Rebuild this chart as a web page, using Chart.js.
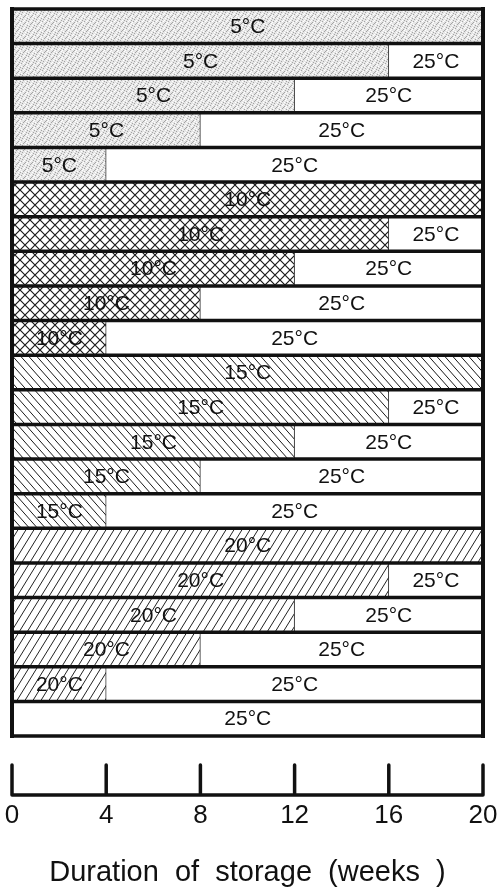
<!DOCTYPE html>
<html>
<head>
<meta charset="utf-8">
<script src="https://cdn.jsdelivr.net/npm/chart.js@4/dist/chart.umd.min.js"></script>
<style>
html, body { margin: 0; padding: 0; background: #fff; }
canvas { display: block; }
</style>
</head>
<body>
<canvas id="graphic" width="499" height="890"></canvas>
<script>
// storage regimes, top to bottom: weeks at the cold temperature, then the rest at 25°C
var rows = ['5-20', '5-16', '5-12', '5-8', '5-4',
            '10-20', '10-16', '10-12', '10-8', '10-4',
            '15-20', '15-16', '15-12', '15-8', '15-4',
            '20-20', '20-16', '20-12', '20-8', '20-4',
            '25-0'];

var weeks5  = [20, 16, 12, 8, 4, null, null, null, null, null, null, null, null, null, null, null, null, null, null, null, null];
var weeks10 = [null, null, null, null, null, 20, 16, 12, 8, 4, null, null, null, null, null, null, null, null, null, null, null];
var weeks15 = [null, null, null, null, null, null, null, null, null, null, 20, 16, 12, 8, 4, null, null, null, null, null, null];
var weeks20 = [null, null, null, null, null, null, null, null, null, null, null, null, null, null, null, 20, 16, 12, 8, 4, null];
var weeks25 = [null, 4, 8, 12, 16, null, 4, 8, 12, 16, null, 4, 8, 12, 16, null, 4, 8, 12, 16, 20];

var weekTicks = [0, 4, 8, 12, 16, 20];

var FONT = '"Liberation Sans", Arial, Helvetica, sans-serif';
var INK = '#111';

function makeTile(w, h, paint) {
    var c = document.createElement('canvas');
    c.width = w;
    c.height = h;
    var g = c.getContext('2d');
    g.fillStyle = '#fff';
    g.fillRect(0, 0, w, h);
    paint(g, w, h);
    return g.createPattern(c, 'repeat');
}

// fine grey stipple
var stipple = makeTile(7, 7, function (g) {
    g.fillStyle = '#e6e6e6';
    g.fillRect(0, 0, 7, 7);
    g.fillStyle = '#a4a4a4';
    [[0, 0], [4, 1], [2, 3], [6, 4], [1, 5], [5, 6], [3, 2]].forEach(function (p) {
        g.fillRect(p[0], p[1], 1, 1);
    });
    g.fillStyle = '#fff';
    [[2, 0], [6, 1], [0, 3], [4, 4], [3, 6], [5, 2]].forEach(function (p) {
        g.fillRect(p[0], p[1], 1, 1);
    });
});

// cross hatch
var crossHatch = makeTile(10, 10, function (g, w, h) {
    g.strokeStyle = '#1a1a1a';
    g.lineWidth = 1.2;
    for (var dx = -w; dx <= w; dx += w) {
        g.beginPath();
        g.moveTo(dx, 0); g.lineTo(dx + w, h);
        g.moveTo(dx, h); g.lineTo(dx + w, 0);
        g.stroke();
    }
});

// back-slash lines
var backHatch = makeTile(8, 9, function (g, w, h) {
    g.strokeStyle = '#1a1a1a';
    g.lineWidth = 1;
    for (var dx = -w; dx <= w; dx += w) {
        g.beginPath();
        g.moveTo(dx, 0); g.lineTo(dx + w, h);
        g.stroke();
    }
});

// forward-slash lines, steeper
var slashHatch = makeTile(8, 13, function (g, w, h) {
    g.strokeStyle = '#222';
    g.lineWidth = 1;
    for (var dx = -w; dx <= w; dx += w) {
        g.beginPath();
        g.moveTo(dx, h); g.lineTo(dx + w, 0);
        g.stroke();
    }
});

var storagePlot = {
    id: 'storagePlot',
    afterDatasetsDraw: function (chart) {
        var c = chart.ctx;
        var area = chart.chartArea;
        var y = chart.scales.y;
        var step = y.getPixelForValue(1) - y.getPixelForValue(0);
        c.save();
        c.strokeStyle = INK;
        c.lineCap = 'square';

        // row separators (top and bottom edges included)
        c.lineWidth = 3.5;
        for (var i = 0; i <= rows.length; i++) {
            var py = y.getPixelForValue(0) - step / 2 + i * step;
            c.beginPath();
            c.moveTo(area.left, py);
            c.lineTo(area.right, py);
            c.stroke();
        }
        // side frame
        c.lineWidth = 4;
        c.beginPath();
        c.moveTo(area.left, area.top);
        c.lineTo(area.left, area.bottom);
        c.moveTo(area.right, area.top);
        c.lineTo(area.right, area.bottom);
        c.stroke();

        // temperature labels in each segment
        c.fillStyle = INK;
        c.font = '21px ' + FONT;
        c.textAlign = 'center';
        c.textBaseline = 'middle';
        chart.data.datasets.forEach(function (ds, di) {
            var meta = chart.getDatasetMeta(di);
            meta.data.forEach(function (bar, j) {
                if (!ds.data[j]) return;
                var p = bar.getProps(['x', 'y', 'base'], true);
                c.fillText(ds.label, (p.x + p.base) / 2, p.y + 1);
            });
        });
        c.restore();
    },
    afterDraw: function (chart) {
        // separate week axis under the plot, ticks pointing up
        var c = chart.ctx;
        var x = chart.scales.x;
        var base = chart.chartArea.bottom + 59;
        c.save();
        c.strokeStyle = INK;
        c.lineWidth = 3.5;
        c.lineJoin = 'round';
        c.lineCap = 'round';
        c.beginPath();
        c.moveTo(x.getPixelForValue(weekTicks[0]), base - 30);
        c.lineTo(x.getPixelForValue(weekTicks[0]), base);
        c.lineTo(x.getPixelForValue(weekTicks[weekTicks.length - 1]), base);
        c.lineTo(x.getPixelForValue(weekTicks[weekTicks.length - 1]), base - 30);
        for (var i = 1; i < weekTicks.length - 1; i++) {
            c.moveTo(x.getPixelForValue(weekTicks[i]), base - 30);
            c.lineTo(x.getPixelForValue(weekTicks[i]), base);
        }
        c.stroke();
        c.restore();
    }
};

function coldSet(label, data, fill) {
    return {
        label: label,
        data: data,
        backgroundColor: fill,
        borderColor: '#333',
        borderWidth: 1
    };
}

var ctx = document.getElementById('graphic').getContext('2d');

var storageData = {
    labels: rows,
    datasets: [
        coldSet('5°C', weeks5, stipple),
        coldSet('10°C', weeks10, crossHatch),
        coldSet('15°C', weeks15, backHatch),
        coldSet('20°C', weeks20, slashHatch),
        coldSet('25°C', weeks25, '#fff')
    ]
};

var storageOptions = {
    responsive: false,
    animation: false,
    indexAxis: 'y',
    categoryPercentage: 1,
    barPercentage: 1,
    layout: { padding: { left: 12, right: 16, top: 9, bottom: 0 } },
    plugins: {
        legend: { display: false },
        tooltip: { enabled: false }
    },
    scales: {
        x: {
            stacked: true,
            min: 0,
            max: 20,
            afterBuildTicks: function (axis) {
                axis.ticks = weekTicks.map(function (v) { return { value: v }; });
            },
            ticks: {
                padding: 0,
                maxRotation: 0,
                minRotation: 0,
                color: INK,
                font: { family: FONT, size: 26 }
            },
            // invisible tick marks only make room for the drawn axis above the labels
            grid: {
                display: true,
                drawOnChartArea: false,
                drawTicks: true,
                tickLength: 64,
                tickColor: 'rgba(0,0,0,0)'
            },
            border: { display: false },
            title: {
                display: true,
                text: 'Duration  of  storage  (weeks  )',
                color: INK,
                font: { family: FONT, size: 29 },
                padding: { top: 24, bottom: 0 }
            }
        },
        y: { stacked: true, display: false }
    }
};

var graphic = new Chart(ctx, {
    type: 'bar',
    data: storageData,
    options: storageOptions,
    plugins: [storagePlot]
});
</script>
</body>
</html>
